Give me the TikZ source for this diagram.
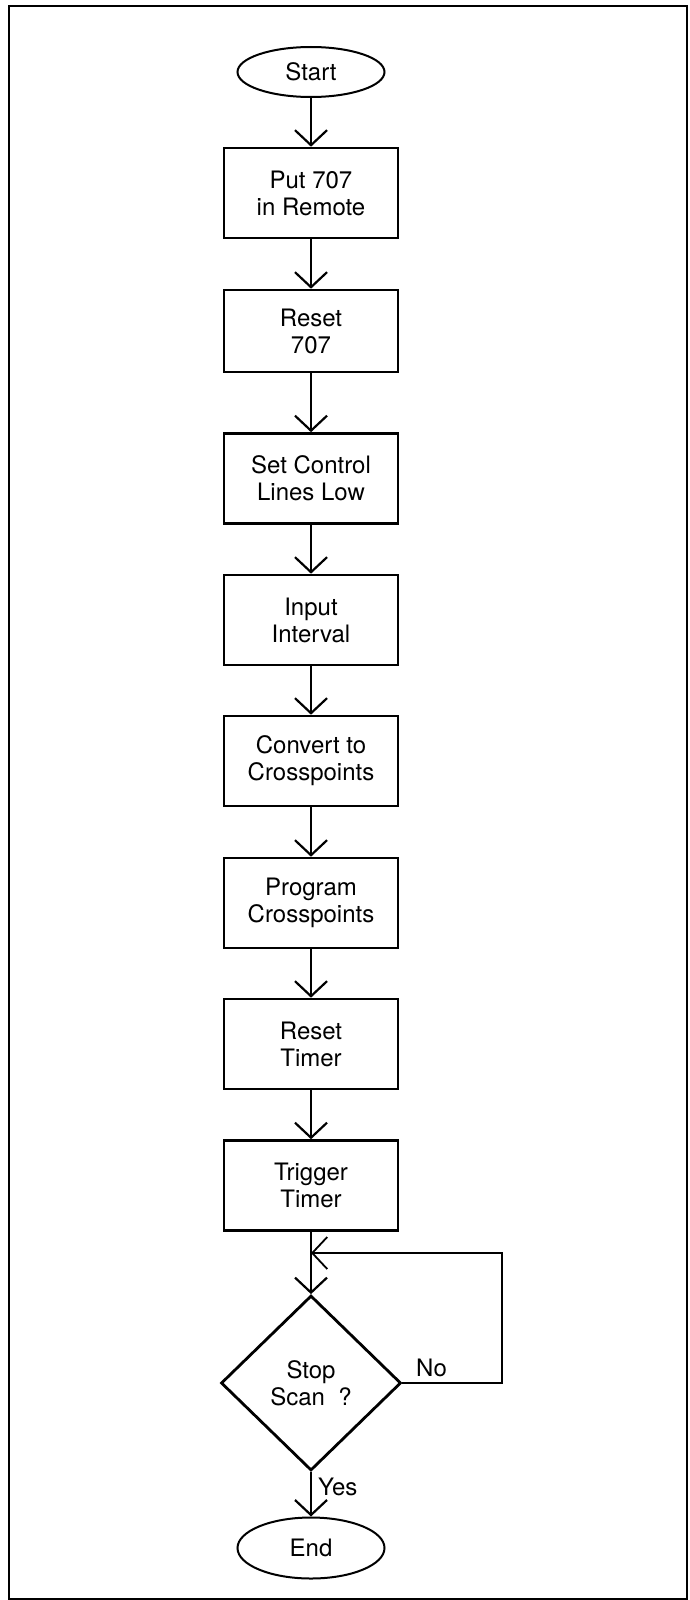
\documentclass[tikz,border=0pt]{standalone}
\usepackage{fontspec}
\setmainfont{TeX Gyre Heros}
\usetikzlibrary{shapes.geometric,arrows.meta}
\begin{document}
\begin{tikzpicture}[x=1pt,y=-1pt,
  font=\fontsize{24}{27}\selectfont,
  stepbox/.style={draw,line width=2.6pt,rectangle,minimum width=174pt,
    minimum height=90pt,inner sep=0pt,align=center},
  terminal/.style={draw,line width=2pt,ellipse,minimum width=147pt,inner sep=0pt},
  decision/.style={draw,line width=2.8pt,diamond,minimum width=180pt,
    minimum height=175pt,inner sep=0pt,align=center},
  flow/.style={line width=2.2pt,-{Straight Barb[length=15pt,width=32pt]}},
  backflow/.style={line width=1.8pt,-{Straight Barb[length=15pt,width=32pt]}},
  label/.style={anchor=base west,inner sep=0pt}
]
% page and frame
\useasboundingbox (0,0) rectangle (690,1600);
\draw[line width=1.8pt] (9,6) rectangle (687,1599);

% steps of the scan routine
\node[terminal,minimum height=50pt] (start) at (311,72) {Start};
\node[stepbox] (b1) at (311,193) {Put 707\\in Remote};
\node[stepbox,minimum height=82pt] (b2) at (311,331) {Reset\\707};
\node[stepbox] (b3) at (311,478.5) {Set Control\\Lines Low};
\node[stepbox] (b4) at (311,620) {Input\\Interval};
\node[stepbox] (b5) at (311,761) {Convert to\\Crosspoints};
\node[stepbox] (b6) at (311,903) {Program\\Crosspoints};
\node[stepbox] (b7) at (311,1044) {Reset\\Timer};
\node[stepbox] (b8) at (311,1185.5) {Trigger\\Timer};
\node[decision] (dia) at (311,1383) {Stop\\Scan\ \ ?};
\node[terminal,minimum height=61pt] (end) at (311,1548) {End};

% flow between steps
\draw[flow] (start) -- (b1);
\draw[flow] (b1) -- (b2);
\draw[flow] (b2) -- (b3);
\draw[flow] (b3) -- (b4);
\draw[flow] (b4) -- (b5);
\draw[flow] (b5) -- (b6);
\draw[flow] (b6) -- (b7);
\draw[flow] (b7) -- (b8);
\draw[flow] (b8) -- (dia);
\draw[flow] (dia) -- (end);

% "No" loops back above the decision
\coordinate (join) at (311,1253);
\coordinate (corner) at (502,1253);
\draw[backflow] (dia.east) -| (corner) -- (join);

\node[label] (nolab) at (416,1376) {No};
\node[label] (yeslab) at (318,1495) {Yes};
\end{tikzpicture}
\end{document}
